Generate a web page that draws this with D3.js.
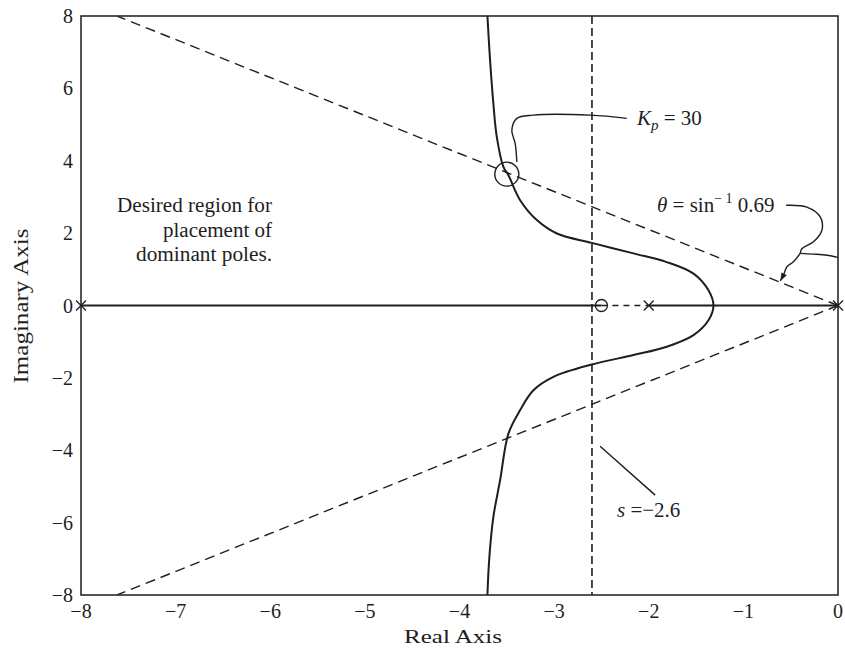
<!DOCTYPE html>
<html>
<head>
<meta charset="utf-8">
<script src="https://cdn.jsdelivr.net/npm/d3@7"></script>
<style>
  html, body { margin: 0; padding: 0; background: #fff; }
  svg { display: block; }
</style>
</head>
<body>
<svg id="chart" width="845" height="652"></svg>
<script>
// ---------------- data ----------------
const xTicks = [-8, -7, -6, -5, -4, -3, -2, -1, 0];
const yTicks = [-8, -6, -4, -2, 0, 2, 4, 6, 8];
const xDomain = [-8, 0];
const yDomain = [-8, 8];

// root locus branch, upper half (top -> breakaway)
const locusUpper = [
  [-3.705, 8.0], [-3.677, 6.78], [-3.642, 5.58], [-3.606, 4.66], [-3.536, 3.83],
  [-3.483, 3.60], [-3.359, 2.91], [-3.183, 2.36], [-2.971, 1.99], [-2.602, 1.73],
  [-2.162, 1.44], [-1.809, 1.20], [-1.527, 0.88], [-1.369, 0.42], [-1.316, 0.0]
];
// lower half (breakaway -> bottom)
const locusLower = [
  [-1.369, -0.41], [-1.527, -0.82], [-1.809, -1.14], [-2.162, -1.37], [-2.602, -1.63],
  [-3.007, -1.97], [-3.219, -2.34], [-3.359, -2.89], [-3.483, -3.54], [-3.571, -4.83],
  [-3.642, -5.84], [-3.684, -6.94], [-3.705, -8.0]
];

const poles = [0, -2, -8];
const zeros = [-2.5];
const zetaLineEnds = [[-7.62, 8], [-7.62, -8]];   // theta = asin(0.69) lines from origin
const sLineValue = -2.6;
const kpPoint = [-3.5, 3.63];

const kpLeader = [[-3.394, 3.97], [-3.412, 4.48], [-3.447, 4.84], [-3.394, 5.17], [-3.222, 5.26], [-2.619, 5.26], [-2.232, 5.17]];
const thetaLeaderTop = [[-0.548, 2.77], [-0.329, 2.72], [-0.188, 2.45], [-0.170, 2.08], [-0.259, 1.76], [-0.382, 1.57], [-0.400, 1.44]];
const thetaLeaderRight = [[-0.400, 1.44], [-0.262, 1.42], [-0.117, 1.39], [0, 1.33]];
const thetaLeaderLeft = [[-0.400, 1.44], [-0.474, 1.20], [-0.540, 1.07], [-0.576, 0.84], [-0.610, 0.68]];
const sLeader = [[-2.514, -3.89], [-1.932, -5.24]];

const regionText = ["Desired region for", "placement of", "dominant poles."];

// ---------------- layout ----------------
const FONT = "'Liberation Serif', 'Times New Roman', Times, serif";
const svg = d3.select("#chart").attr("font-family", FONT);
const W = 845, H = 652;
const margin = { left: 81, right: 7, top: 16, bottom: 57 };
const x = d3.scaleLinear().domain(xDomain).range([margin.left, W - margin.right]);
const y = d3.scaleLinear().domain(yDomain).range([H - margin.bottom, margin.top]);

const ink = "#1e1e1e";

// clip
svg.append("clipPath").attr("id", "clip").append("rect")
  .attr("x", x(-8)).attr("y", y(8)).attr("width", x(0) - x(-8)).attr("height", y(-8) - y(8));

const plot = svg.append("g").attr("clip-path", "url(#clip)");
const line = d3.line().x(d => x(d[0])).y(d => y(d[1]));

// damping ratio lines
zetaLineEnds.forEach(e => {
  plot.append("path").datum([[0, 0], e]).attr("d", line)
    .attr("fill", "none").attr("stroke", ink).attr("stroke-width", 1.4)
    .attr("stroke-dasharray", "10,6");
});

// s = -2.6 vertical dashed line
plot.append("line")
  .attr("x1", x(sLineValue)).attr("x2", x(sLineValue))
  .attr("y1", y(8)).attr("y2", y(-8))
  .attr("stroke", ink).attr("stroke-width", 1.6).attr("stroke-dasharray", "8,4");

// real axis: solid on locus segments, dashed between zero and pole
plot.append("path").datum([[-8, 0], [zeros[0], 0]]).attr("d", line)
  .attr("stroke", ink).attr("stroke-width", 1.8);
plot.append("path").datum([[zeros[0], 0], [poles[1], 0]]).attr("d", line)
  .attr("stroke", ink).attr("stroke-width", 1.4).attr("stroke-dasharray", "6,5");
plot.append("path").datum([[poles[1], 0], [0, 0]]).attr("d", line)
  .attr("stroke", ink).attr("stroke-width", 1.8);

// root locus curve
const locus = locusUpper.concat(locusLower);
plot.append("path").datum(locus)
  .attr("d", d3.line().x(d => x(d[0])).y(d => y(d[1])).curve(d3.curveCatmullRom.alpha(0.5)))
  .attr("fill", "none").attr("stroke", ink).attr("stroke-width", 2);

// frame
svg.append("rect")
  .attr("x", x(-8)).attr("y", y(8)).attr("width", x(0) - x(-8)).attr("height", y(-8) - y(8))
  .attr("fill", "none").attr("stroke", "#2a2a2a").attr("stroke-width", 1.6);

// poles (x) and zeros (o)
const px = 5;
poles.forEach(p => {
  const cx = x(p), cy = y(0);
  svg.append("path")
    .attr("d", `M${cx - px},${cy - px}L${cx + px},${cy + px}M${cx - px},${cy + px}L${cx + px},${cy - px}`)
    .attr("stroke", ink).attr("stroke-width", 1.3);
});
zeros.forEach(z => {
  svg.append("circle").attr("cx", x(z)).attr("cy", y(0)).attr("r", 6)
    .attr("fill", "none").attr("stroke", ink).attr("stroke-width", 1.3);
});

// Kp circle
svg.append("circle").attr("cx", x(kpPoint[0])).attr("cy", y(kpPoint[1])).attr("r", 12)
  .attr("fill", "none").attr("stroke", ink).attr("stroke-width", 1.4);

// leaders
const smooth = d3.line().x(d => x(d[0])).y(d => y(d[1])).curve(d3.curveCatmullRom.alpha(0.5));
[kpLeader, thetaLeaderTop, thetaLeaderRight, thetaLeaderLeft].forEach(pts => {
  svg.append("path").datum(pts).attr("d", smooth)
    .attr("fill", "none").attr("stroke", ink).attr("stroke-width", 1.4);
});
svg.append("path").datum(sLeader).attr("d", line)
  .attr("fill", "none").attr("stroke", ink).attr("stroke-width", 1.4);

// arrowhead at end of thetaLeaderLeft
{
  const n = thetaLeaderLeft.length;
  const a = thetaLeaderLeft[n - 2], b = thetaLeaderLeft[n - 1];
  const ax = x(a[0]), ay = y(a[1]), bx = x(b[0]), by = y(b[1]);
  const ang = Math.atan2(by - ay, bx - ax);
  const L = 8, Wd = 3;
  const p1 = [bx - L * Math.cos(ang) + Wd * Math.sin(ang), by - L * Math.sin(ang) - Wd * Math.cos(ang)];
  const p2 = [bx - L * Math.cos(ang) - Wd * Math.sin(ang), by - L * Math.sin(ang) + Wd * Math.cos(ang)];
  svg.append("path").attr("d", `M${bx},${by}L${p1[0]},${p1[1]}L${p2[0]},${p2[1]}Z`).attr("fill", ink);
}

// ---------------- axes labels ----------------
const fmt = v => (v < 0 ? "\u2212" + Math.abs(v) : String(v));
const txt = (sel) => sel.attr("font-family", FONT).attr("fill", ink);

svg.append("g").selectAll("text").data(xTicks).join("text")
  .call(txt)
  .attr("x", d => x(d)).attr("y", y(-8) + 23)
  .attr("text-anchor", "middle").attr("font-size", 20)
  .text(fmt);

svg.append("g").selectAll("text").data(yTicks).join("text")
  .call(txt)
  .attr("x", x(-8) - 8).attr("y", d => y(d) + 7)
  .attr("text-anchor", "end").attr("font-size", 20)
  .text(fmt);

svg.append("text").call(txt).attr("x", 404).attr("y", 643)
  .attr("font-size", 19).attr("textLength", 98).attr("lengthAdjust", "spacingAndGlyphs")
  .text("Real Axis");

svg.append("text").call(txt)
  .attr("transform", `translate(28, ${y(0) + 78}) rotate(-90)`)
  .attr("font-size", 20).attr("textLength", 155).attr("lengthAdjust", "spacingAndGlyphs")
  .text("Imaginary Axis");

// ---------------- annotations ----------------
const regionRight = 272;
const regionBase = [212, 237, 261];
const regionWidths = [155, 109, 136];
regionText.forEach((t, i) => {
  svg.append("text").call(txt).attr("x", regionRight - regionWidths[i]).attr("y", regionBase[i])
    .attr("font-size", 20).attr("textLength", regionWidths[i]).attr("lengthAdjust", "spacingAndGlyphs")
    .text(t);
});

// K_p = 30
{
  const t = svg.append("text").call(txt).attr("x", 637).attr("y", 125).attr("font-size", 21);
  t.append("tspan").attr("font-style", "italic").text("K");
  t.append("tspan").attr("font-style", "italic").attr("font-size", 15).attr("dy", 5).text("p");
  t.append("tspan").attr("dy", -5).text(" = 30");
}

// theta = sin^-1 0.69
{
  const t = svg.append("text").call(txt).attr("x", 657).attr("y", 212).attr("font-size", 21);
  t.append("tspan").attr("font-style", "italic").text("\u03b8");
  t.append("tspan").text(" = sin");
  t.append("tspan").attr("font-size", 14).attr("dy", -9).text("\u2212 1");
  t.append("tspan").attr("dy", 9).text(" 0.69");
}

// s = -2.6
{
  const t = svg.append("text").call(txt).attr("x", 617).attr("y", 517).attr("font-size", 21);
  t.append("tspan").attr("font-style", "italic").text("s");
  t.append("tspan").text(" =\u22122.6");
}
</script>
</body>
</html>
